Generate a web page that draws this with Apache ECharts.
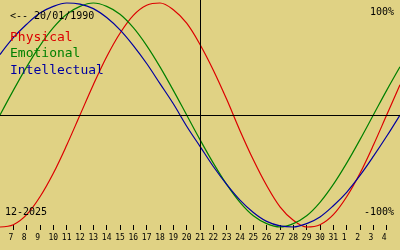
<!DOCTYPE html>
<html><head><meta charset="utf-8">
<script src="https://cdn.jsdelivr.net/npm/echarts@6/dist/echarts.min.js"></script>
<style>html,body{margin:0;padding:0;background:#e0d284;}#c{width:400px;height:250px;}</style>
</head><body><div id="c"></div>
<script>
// day of chart (December 2025; values > 31 are January 2026)
const days = [6,7,8,9,10,11,12,13,14,15,16,17,18,19,20,21,22,23,24,25,26,27,28,29,30,31,32,33,34,35,36];
const physical = [-1.00,-0.98,-0.89,-0.73,-0.52,-0.27,0.00,0.27,0.52,0.73,0.89,0.98,1.00,0.94,0.82,0.63,0.40,0.14,-0.14,-0.40,-0.63,-0.82,-0.94,-1.00,-0.98,-0.89,-0.73,-0.52,-0.27,0.00,0.27];
const emotional = [0.00,0.22,0.43,0.62,0.78,0.90,0.97,1.00,0.97,0.90,0.78,0.62,0.43,0.22,0.00,-0.22,-0.43,-0.62,-0.78,-0.90,-0.97,-1.00,-0.97,-0.90,-0.78,-0.62,-0.43,-0.22,0.00,0.22,0.43];
const intellectual = [0.54,0.69,0.81,0.91,0.97,1.00,0.99,0.95,0.87,0.76,0.62,0.46,0.28,0.10,-0.10,-0.28,-0.46,-0.62,-0.76,-0.87,-0.95,-0.99,-1.00,-0.97,-0.91,-0.81,-0.69,-0.54,-0.37,-0.19,0.00];
const tickDays = [7,8,9,10,11,12,13,14,15,16,17,18,19,20,21,22,23,24,25,26,27,28,29,30,31,32,33,34,35];
const tickLabels = ['7','8','9','10','11','12','13','14','15','16','17','18','19','20','21','22','23','24','25','26','27','28','29','30','31','1','2','3','4'];
const today = 21;
const seriesNames = ['Physical','Emotional','Intellectual'];
const seriesColors = ['#dc0000','#008000','#0000a0'];
const birthText = '<-- 20/01/1990';
const monthText = '12-2025';
const topText = '100%';
const bottomText = '-100%';

const mono = 'DejaVu Sans Mono';
const chart = echarts.init(document.getElementById('c'), null, {renderer:'canvas'});
const values = [physical, emotional, intellectual];
const series = seriesNames.map((n,i)=>({
  name:n, type:'line', smooth:0.35, showSymbol:false, silent:true,
  data: days.map((d,j)=>[d, values[i][j]]),
  lineStyle:{color:seriesColors[i], width:1.2},
  itemStyle:{color:seriesColors[i]},
  animation:false
}));
series[0].markLine = {
  silent:true, symbol:'none', animation:false,
  label:{show:false},
  lineStyle:{color:'#000', width:1, type:'solid'},
  data:[{xAxis: today},{yAxis: 0}]
};
chart.setOption({
  backgroundColor:'#e0d284',
  animation:false,
  grid:{left:0,right:0,top:0,bottom:20},
  title:[
    {text:birthText, left:10, top:11, padding:0, textStyle:{fontFamily:mono,fontSize:10,fontWeight:'normal',color:'#000'}},
    {text:topText, right:6, top:7, padding:0, textStyle:{fontFamily:mono,fontSize:10,fontWeight:'normal',color:'#000'}},
    {text:bottomText, right:6, top:207, padding:0, textStyle:{fontFamily:mono,fontSize:10,fontWeight:'normal',color:'#000'}},
    {text:monthText, left:5, top:207, padding:0, textStyle:{fontFamily:mono,fontSize:10,fontWeight:'normal',color:'#000'}}
  ],
  legend:{
    orient:'vertical', left:5, top:31, padding:0, itemGap:3.5, icon:'none', itemWidth:0, itemHeight:13,
    selectedMode:false,
    textStyle:{fontFamily:mono, fontSize:13},
    data: seriesNames.map((n,i)=>({name:n, textStyle:{color:seriesColors[i]}}))
  },
  xAxis:{
    type:'value', min:6, max:36, interval:1,
    axisLine:{show:false, onZero:false}, splitLine:{show:false},
    axisTick:{show:true, inside:true, length:5, customValues:tickDays, lineStyle:{color:'#000',width:1}},
    axisLabel:{show:true, customValues:tickDays, margin:4, fontFamily:mono, fontSize:8, color:'#000',
      formatter:(v)=>{const k=tickDays.indexOf(Math.round(v)); return k<0?'':tickLabels[k].padEnd(2,' ');}}
  },
  yAxis:{type:'value', min:-1.0268, max:1.0268, show:false, splitLine:{show:false}},
  series:series
});
</script></body></html>
